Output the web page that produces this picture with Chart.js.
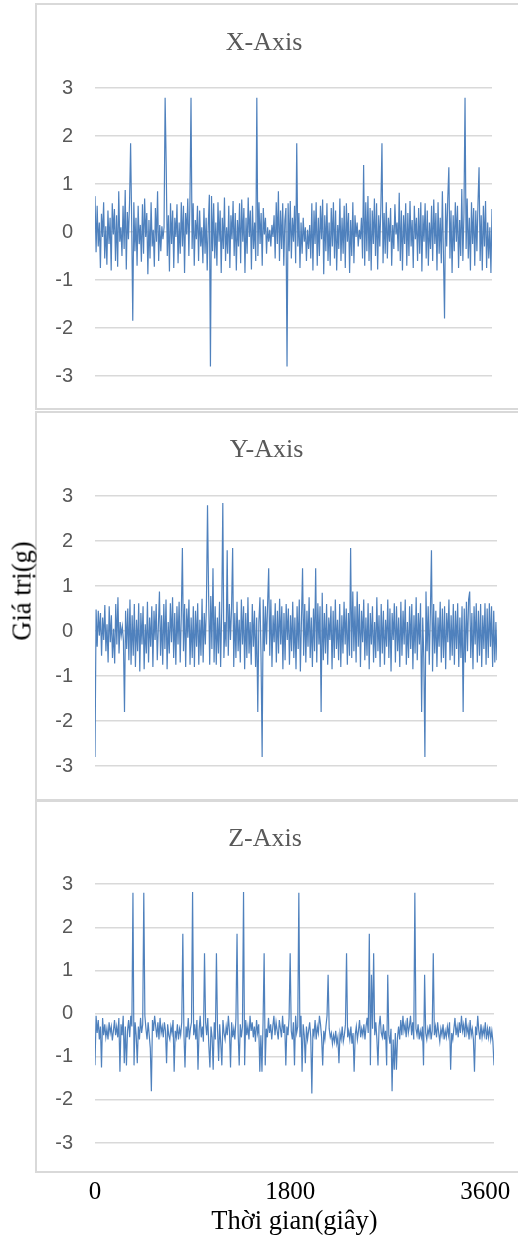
<!DOCTYPE html>
<html><head><meta charset="utf-8">
<script src="https://cdn.jsdelivr.net/npm/chart.js@4.4.1/dist/chart.umd.min.js"></script>
<style>
html,body{margin:0;padding:0;background:#fff;width:518px;height:1242px;overflow:hidden;position:relative}
.panel{position:absolute;left:35px;width:520px;border:2px solid #d9d9d9;box-sizing:border-box}
canvas{position:absolute;left:36px}
#ylab{position:absolute;left:22px;top:591px;transform:translate(-50%,-50%) rotate(-90deg);font:26.5px "Liberation Serif",serif;white-space:nowrap;color:#000}
</style></head><body>
<div class="panel" style="top:3px;height:407px"></div>
<div class="panel" style="top:411px;height:390px"></div>
<div class="panel" style="top:800px;height:373px"></div>
<canvas id="c1" width="482" height="406" style="top:4px"></canvas>
<canvas id="c2" width="482" height="388" style="top:412px"></canvas>
<canvas id="c3" width="482" height="441" style="top:801px"></canvas>
<div id="ylab">Giá trị(g)</div>
<script>
// sampling interval (seconds) between consecutive readings
const STEP = 10;
const TITLES = ['X-Axis', 'Y-Axis', 'Z-Axis'];
const X_TICKS = [0, 1800, 3600];
const Y_MIN = -3, Y_MAX = 3;
const X_LABEL = 'Thời gian(giây)';

const X_AXIS = [
0.75,-0.42,0.55,-0.3,0.2,-0.75,0.38,-0.1,0.62,-0.55,
0.12,-0.68,0.45,-0.25,0.3,-0.8,0.6,-0.05,0.48,-0.6,
0.35,-0.72,0.85,-0.2,0.1,-0.5,0.55,-0.35,0.88,-0.78,
0.42,-0.15,0.6,1.85,0.2,-1.85,0.62,-0.4,0.3,-0.7,
0.55,-0.25,0.15,-0.62,0.58,-0.45,0.7,-0.1,0.4,-0.88,
0.25,-0.55,0.62,-0.3,0.05,-0.72,0.5,-0.2,0.85,-0.6,
0.15,-0.4,0.12,-0.15,0.1,2.8,1.4,-0.5,0.35,-0.82,
0.6,-0.25,0.45,-0.75,0.3,-0.1,0.58,-0.65,0.2,-0.45,
0.62,-0.3,0.55,-0.85,0.4,-0.05,0.7,-0.5,0.65,2.8,
-0.35,0.6,-0.7,0.25,-0.15,0.55,-0.6,0.45,-0.3,0.1,
-0.65,0.5,-0.45,0.3,-0.8,0.15,0.78,-2.8,0.75,-0.4,
0.6,-0.55,0.2,-0.7,0.62,-0.2,0.45,-0.85,0.3,-0.35,
0.72,-0.6,0.1,-0.45,0.55,-0.75,0.35,-0.15,0.65,-0.5,
0.4,-0.8,0.25,-0.3,0.6,-0.65,0.68,-0.2,0.5,-0.85,
0.3,-0.45,0.72,-0.1,0.45,-0.78,0.55,-0.35,0.2,-0.6,
2.8,-0.5,0.62,-0.25,0.4,-0.7,0.5,-0.05,0.3,-0.45,
0.1,-0.2,0.05,-0.3,0.15,-0.1,0.35,-0.55,0.62,-0.25,
0.85,-0.6,0.45,-0.35,0.6,-0.7,0.25,0.5,-2.8,0.6,
-0.4,0.65,-0.55,0.3,-0.2,0.55,-0.65,1.85,-0.3,0.4,
-0.75,0.2,-0.45,0.3,-0.2,0.1,-0.6,0.05,-0.35,0.15,
-0.55,0.6,-0.8,0.45,-0.25,0.62,-0.7,0.3,-0.5,0.55,
-0.15,0.68,-0.88,0.35,-0.4,0.6,-0.6,0.2,-0.7,0.5,
-0.3,0.62,-0.55,0.45,-0.8,0.15,-0.35,0.7,-0.6,0.3,
-0.45,0.55,-0.75,0.6,-0.2,0.4,-0.85,0.25,-0.5,0.62,
-0.65,0.35,-0.1,0.2,-0.3,0.05,-0.15,0.3,-0.55,1.4,
-0.7,0.62,-0.4,0.75,-0.6,0.5,-0.8,0.45,-0.25,0.7,
-0.5,0.6,-0.78,0.35,-0.3,0.55,1.85,-0.65,0.4,-0.45,
0.62,-0.55,0.3,-0.2,0.5,-0.7,0.15,-0.35,0.58,-0.05,
0.2,-0.4,0.82,-0.6,0.45,-0.8,0.35,-0.25,0.6,-0.7,
0.4,-0.5,0.65,-0.3,0.25,-0.75,0.55,-0.15,0.3,-0.6,
0.5,-0.45,0.62,-0.82,0.35,-0.2,0.6,-0.55,0.45,-0.7,
0.2,-0.35,0.55,-0.6,0.68,-0.25,0.4,-0.8,0.62,-0.45,
0.3,-0.65,0.85,-0.5,-1.8,0.6,-0.3,0.7,1.35,-0.55,
0.45,-0.85,0.35,-0.4,0.62,-0.2,0.55,-0.75,0.25,-0.5,
0.9,-0.6,0.4,2.8,-0.35,0.7,-0.55,0.3,-0.8,0.62,
-0.25,0.5,-0.7,0.45,-0.4,0.6,1.35,-0.6,0.35,-0.8,
0.55,-0.3,0.65,-0.75,0.2,-0.55,0.1,-0.85,0.48
];

const Y_AXIS = [
-2.8,0.48,-0.35,0.45,-0.1,0.4,-0.55,0.3,-0.2,0.58,
-0.45,0.15,-0.7,0.55,-0.25,0.35,-0.6,0.05,-0.72,0.6,
-0.3,0.75,-0.5,0.2,-0.1,0.1,-0.2,-1.8,0.45,-0.4,
0.5,-0.65,0.7,-0.75,0.35,-0.55,0.6,-0.8,0.25,-0.45,
0.62,-0.9,0.4,-0.3,0.55,-0.85,0.15,-0.5,0.65,-0.7,
0.3,-0.35,0.55,-0.8,0.45,-0.2,0.6,-0.65,0.1,0.88,
-0.55,0.35,-0.75,0.6,-0.4,0.7,-0.85,0.2,-0.5,0.62,
-0.25,0.75,-0.6,0.4,-0.75,0.55,-0.3,0.65,-0.7,0.35,
1.85,-0.45,0.6,-0.8,0.5,-0.15,0.7,-0.75,0.3,-0.6,
0.55,-0.8,0.45,-0.35,0.62,-0.75,0.25,-0.55,0.72,-0.7,
0.4,-0.3,0.6,2.8,0.8,-0.75,0.78,-0.4,1.4,-0.7,
0.55,-0.75,0.3,-0.5,0.65,-0.8,0.45,2.85,-0.6,0.2,
-0.35,1.8,-0.55,0.6,-0.2,0.5,1.85,-0.8,0.4,-0.6,
0.65,-0.45,0.25,-0.7,0.7,-0.3,0.55,-0.85,0.4,-0.6,
0.75,-0.5,0.2,-0.75,0.6,-0.35,0.45,-0.8,0.3,-1.8,
0.2,0.75,-0.6,-2.8,0.7,-0.45,0.55,-0.3,0.6,1.4,
-0.55,0.7,-0.8,0.35,-0.25,0.62,-0.7,0.45,-0.5,0.72,
-0.3,0.55,-0.85,0.4,-0.65,0.6,-0.2,0.5,-0.75,0.35,
-0.45,0.65,-0.6,0.3,-0.85,0.55,-0.4,0.7,-0.9,0.25,
1.4,-0.55,0.6,-0.7,0.45,-0.35,0.75,-0.6,0.3,-0.8,
0.5,-0.45,1.4,-0.7,0.62,-0.3,0.55,-1.8,0.85,-0.65,
0.4,-0.5,0.6,-0.75,0.3,-0.2,0.55,-0.85,0.45,-0.6,
0.7,-0.4,0.25,-0.65,0.6,-0.8,0.35,-0.5,0.65,-0.3,
0.5,-0.75,0.4,-0.55,1.85,-0.6,0.88,-0.45,0.55,-0.7,
0.88,-0.35,0.6,-0.8,0.45,-0.25,0.7,-0.65,0.3,-0.55,
0.62,-0.85,0.4,-0.3,0.55,-0.7,0.2,-0.6,0.75,-0.45,
0.35,-0.8,0.6,-0.5,0.45,-0.75,0.25,-0.35,0.7,-0.6,
0.5,-0.9,0.4,-0.2,0.62,-0.7,0.55,-0.45,0.3,-0.8,
0.65,-0.55,0.45,-0.3,0.7,-0.75,0.2,-0.6,0.55,-0.4,
0.6,-0.85,0.35,-0.5,0.75,-0.65,0.4,-0.3,0.62,-1.8,
0.3,-0.6,-2.8,0.88,-0.45,0.55,-0.75,0.4,1.8,-0.9,
0.6,-0.5,0.45,-0.8,0.3,-0.35,0.65,-0.7,0.5,-0.6,
0.55,-0.85,0.4,-0.25,0.7,-0.65,0.35,-0.55,0.6,-0.75,
0.45,-0.4,0.62,-0.8,0.3,-0.6,0.55,-1.8,0.5,-0.7,
0.65,-0.45,0.7,0.88,-0.6,0.4,-0.85,0.55,-0.3,0.62,
-0.7,0.45,-0.55,0.6,-0.8,0.35,-0.4,0.62,-0.75,0.5,
-0.6,0.62,-0.35,0.55,-0.8,0.45,-0.7,0.2,-0.65
];

const Z_AXIS = [
-1.2,-0.05,-0.45,-0.15,-0.6,-0.3,-1.25,-0.1,-0.5,-0.25,
-0.55,-0.35,-0.6,-0.2,-0.45,-0.3,-0.62,-0.4,-0.15,-0.5,
-0.3,-0.55,-0.1,-1.35,-0.25,-0.5,-0.05,-1.15,-0.3,-1.2,
-0.4,-0.15,-0.55,-0.05,-0.3,2.8,-1.2,-0.2,-0.5,-1.15,
-0.3,-0.6,-0.1,-0.45,-0.25,2.8,-0.05,-0.35,-0.6,-0.2,
-0.5,-0.8,-1.8,-0.15,-0.4,-0.05,-0.3,-0.55,-0.2,-0.6,
-0.1,-0.45,-0.3,-0.55,-0.2,-0.4,-1.15,-0.25,-0.5,-0.6,
-0.3,-0.45,-0.15,-1.35,-0.4,-0.55,-0.25,-0.6,-0.35,-0.5,
-0.2,1.85,-0.45,-1.25,-0.3,-0.55,-0.1,-0.6,-0.35,-0.2,
2.82,-0.5,-0.25,-0.6,-0.15,-1.3,-0.4,-0.05,-0.55,-0.3,
-0.65,1.4,-0.2,-0.5,-0.1,-0.75,-1.25,-0.3,-0.55,-1.3,
-0.2,-0.6,1.4,-0.35,-1.1,-0.25,-0.7,-1.2,-0.15,-0.45,
-0.6,-0.3,-0.5,-0.05,-0.4,-1.25,-0.2,-0.55,-0.35,-0.6,
-0.1,1.85,-0.45,-1.2,-0.25,-0.55,-0.3,2.82,-1.2,-0.15,
-0.5,-0.3,-0.6,-0.05,-0.4,-0.2,-0.55,-0.3,-0.65,-0.15,
-0.45,-0.25,-1.35,-0.5,-1.35,-0.2,1.4,-1.2,-0.35,-0.55,
-0.1,-0.45,-0.25,-0.6,-0.3,-0.05,-0.5,-0.2,-0.4,-0.6,
-0.15,-0.35,-0.55,-0.05,-0.45,-0.25,-1.2,-0.3,-0.5,-0.1,
1.4,-0.4,-0.6,-0.2,-1.2,-0.05,-0.45,-0.3,2.8,-0.55,
-0.05,-1.35,-0.25,-0.5,-1.15,-0.3,-0.6,-0.4,-0.2,-0.55,
-1.85,-0.35,-0.5,-0.15,-0.6,-0.3,-0.45,-0.05,-0.25,-0.55,
-1.2,-0.4,-0.6,-0.3,-0.05,0.9,-0.35,-0.55,-0.45,-0.7,
-0.5,-0.65,-0.4,-0.7,-0.55,-1.15,-0.45,-0.6,-0.3,-0.65,
-0.5,-0.25,1.4,-0.55,-0.4,-0.6,-0.3,-0.7,-0.45,-1.35,
-0.5,-0.3,-0.6,-0.4,-0.15,-0.55,-0.35,-0.5,-0.25,-0.6,
-0.3,-0.1,-0.45,1.85,-1.2,0.9,-0.35,1.4,-0.5,-0.2,
-0.6,-1.2,-0.3,-0.05,-0.45,-0.55,-0.25,-0.6,-0.4,-1.2,
0.9,-0.5,-0.7,-0.35,-1.8,-0.6,-1.3,-0.45,-1.3,-0.55,
-0.3,-0.6,-0.15,-0.5,-0.05,-0.4,-0.25,-0.55,-0.1,-0.45,
-0.3,-0.05,-0.5,-0.2,-0.6,2.8,-0.35,-0.5,-0.25,-0.6,
-0.4,-0.55,-0.3,-1.2,0.9,-0.45,-0.6,-0.35,-0.5,-0.25,
-0.6,-0.4,1.4,-0.5,-0.3,-0.55,-0.2,-0.45,-0.65,-0.35,
-0.5,-0.25,-0.6,-0.4,-0.55,-0.3,-0.5,-0.2,-1.3,-0.45,
-0.6,-0.35,-0.1,-0.5,-0.3,-0.55,-0.2,-0.45,-0.05,-0.4,
-0.25,-0.55,-0.1,-0.45,-0.3,-0.6,-0.15,-0.5,-0.35,-0.6,
-1.35,-0.3,-0.5,-0.05,-0.4,-0.6,-0.25,-0.55,-0.35,-0.5,
-0.2,-0.6,-0.35,-0.55,-0.3,-0.6,-0.4,-0.65,-1.2
];

const X_MAX = (X_AXIS.length - 1) * STEP;
const LINE_COLOR = '#4f81bd';
const GRID_COLOR = '#d9d9d9';
const TEXT_GRAY = '#595959';

function makeChart(id, title, values, o) {
  const pts = values.map((v, i) => ({ x: i * STEP, y: v }));
  const xScale = {
    type: 'linear', min: 0, max: X_MAX,
    display: o.showX,
    grid: { display: false, drawTicks: false },
    border: { display: false },
    afterBuildTicks: (ax) => { ax.ticks = X_TICKS.map(v => ({ value: v })); },
    afterFit: (ax) => {
      if (o.showX) ax.height = o.xHeight;
      ax.paddingLeft = 0; ax.paddingRight = 0;
    },
    ticks: { autoSkip: false, maxRotation: 0, padding: 34, color: '#000',
      callback: (v) => String(v),
      font: { family: '"Liberation Serif", serif', size: 25 } },
    title: { display: o.showX, text: X_LABEL, color: '#000', padding: { top: 0, bottom: 4 },
      font: { family: '"Liberation Serif", serif', size: 26.5 } }
  };
  return new Chart(document.getElementById(id), {
    type: 'line',
    data: { datasets: [{ data: pts, borderColor: LINE_COLOR, borderWidth: 1.2, pointRadius: 0, tension: 0, fill: false }] },
    options: {
      responsive: false, animation: false,
      layout: { padding: { left: 0, top: 0, right: o.padRight, bottom: o.padBottom } },
      plugins: {
        legend: { display: false }, tooltip: { enabled: false },
        title: { display: true, text: title, color: TEXT_GRAY,
          font: { family: '"Liberation Serif", serif', size: 26, weight: 'normal', lineHeight: 1.2 },
          padding: { top: o.tTop, bottom: o.tBottom } }
      },
      scales: {
        x: xScale,
        y: {
          min: Y_MIN, max: Y_MAX,
          afterFit: (ax) => { ax.width = 59; },
          grid: { color: GRID_COLOR, lineWidth: 1.5, drawTicks: false },
          border: { display: false },
          ticks: { stepSize: 1, padding: 22, color: TEXT_GRAY,
            font: { family: '"Liberation Sans", sans-serif', size: 20 } }
        }
      }
    }
  });
}

makeChart('c1', TITLES[0], X_AXIS, { showX: false, padRight: 26, padBottom: 29, tTop: 24, tBottom: 29 });
makeChart('c2', TITLES[1], Y_AXIS, { showX: false, padRight: 21, padBottom: 30, tTop: 23, tBottom: 30 });
makeChart('c3', TITLES[2], Z_AXIS, { showX: true, xHeight: 99, padRight: 24, padBottom: 0, tTop: 23, tBottom: 29 });
</script>
</body></html>
